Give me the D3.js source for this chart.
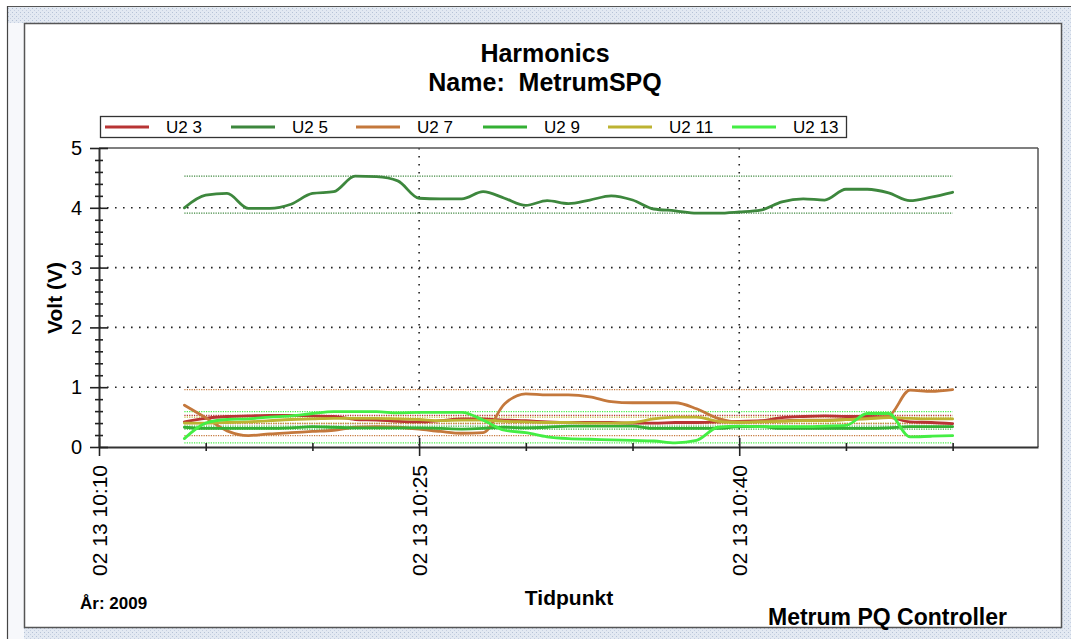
<!DOCTYPE html>
<html>
<head>
<meta charset="utf-8">
<script src="https://cdn.jsdelivr.net/npm/d3@7"></script>
<style>
  body { margin: 0; background: #fff; }
  svg { display: block; }
  text { font-family: Arial, "Liberation Sans", sans-serif; fill: #000; }
</style>
</head>
<body>
<svg id="chart" width="1071" height="639"></svg>
<script>
// Sample times (one reading per minute, 13 Feb 2009)
const times = ["10:14","10:15","10:16","10:17","10:18","10:19","10:20","10:21","10:22","10:23",
               "10:24","10:25","10:26","10:27","10:28","10:29","10:30","10:31","10:32","10:33",
               "10:34","10:35","10:36","10:37","10:38","10:39","10:40","10:41","10:42","10:43",
               "10:44","10:45","10:46","10:47","10:48","10:49","10:50"];

// Harmonic voltages (V)
const u2_3  = [0.42,0.48,0.51,0.52,0.53,0.53,0.52,0.51,0.46,0.45,0.43,0.42,0.44,0.47,0.47,0.45,0.44,0.42,0.41,0.41,
               0.41,0.40,0.40,0.41,0.41,0.42,0.43,0.44,0.49,0.51,0.52,0.51,0.51,0.50,0.42,0.41,0.39];
const u2_5  = [4.00,4.21,4.24,3.99,3.99,4.06,4.24,4.27,4.53,4.52,4.45,4.16,4.15,4.15,4.27,4.16,4.04,4.12,4.07,4.13,
               4.20,4.13,3.98,3.95,3.91,3.91,3.93,3.96,4.10,4.15,4.13,4.31,4.31,4.25,4.12,4.18,4.26];
const u2_7  = [0.70,0.49,0.27,0.19,0.22,0.24,0.26,0.28,0.33,0.34,0.33,0.30,0.26,0.23,0.24,0.72,0.89,0.87,0.87,0.84,
               0.76,0.74,0.74,0.74,0.64,0.48,0.42,0.43,0.44,0.45,0.45,0.46,0.48,0.52,0.95,0.93,0.96];
const u2_9  = [0.33,0.31,0.31,0.31,0.31,0.32,0.34,0.33,0.32,0.32,0.32,0.32,0.31,0.30,0.31,0.33,0.32,0.33,0.35,0.35,
               0.35,0.35,0.31,0.31,0.31,0.31,0.34,0.34,0.31,0.31,0.31,0.31,0.31,0.32,0.34,0.34,0.34];
const u2_11 = [0.40,0.40,0.41,0.42,0.44,0.46,0.47,0.48,0.48,0.48,0.47,0.46,0.44,0.45,0.45,0.43,0.42,0.41,0.41,0.40,
               0.40,0.41,0.47,0.50,0.50,0.43,0.41,0.42,0.43,0.44,0.44,0.46,0.47,0.49,0.48,0.47,0.47];
const u2_13 = [0.14,0.40,0.46,0.47,0.50,0.52,0.56,0.59,0.59,0.59,0.57,0.58,0.58,0.58,0.45,0.28,0.24,0.17,0.14,0.13,
               0.12,0.11,0.10,0.07,0.11,0.33,0.35,0.34,0.34,0.34,0.35,0.36,0.56,0.56,0.17,0.18,0.19];

const seriesNames  = ["U2 3","U2 5","U2 7","U2 9","U2 11","U2 13"];
const seriesValues = [u2_3, u2_5, u2_7, u2_9, u2_11, u2_13];
const seriesColors = ["#b83434","#3d873d","#c4783c","#34b034","#bdb332","#44ee44"];

// Axis settings
const timeDomain   = ["10:10","10:54"];
const yDomain      = [0, 5];
const yLabelTicks  = [0,1,2,3,4,5];
const gridValues   = [1,2,3,4];
const gridTimes    = ["10:25","10:40"];

const titleLines = ["Harmonics", "Name:  MetrumSPQ"];

const parse = s => d3.timeParse("%Y-%m-%d %H:%M")("2009-02-13 " + s);
const fmt = d3.timeFormat("%m %d %H:%M");

const svg = d3.select("#chart");
const W = 1071, H = 639;

// ---- frame and background ----
const defs = svg.append("defs");
const pat = defs.append("pattern").attr("id","hatch").attr("width",4).attr("height",4)
  .attr("patternUnits","userSpaceOnUse");
pat.append("rect").attr("width",4).attr("height",4).attr("fill","#e3e9f2");
pat.append("rect").attr("x",0).attr("y",0).attr("width",1).attr("height",1).attr("fill","#b5c2d6");
pat.append("rect").attr("x",2).attr("y",2).attr("width",1).attr("height",1).attr("fill","#c6d0e1");

svg.append("rect").attr("x",7).attr("y",6).attr("width",W-7).attr("height",H-6).attr("fill","url(#hatch)");
svg.append("rect").attr("x",8).attr("y",23).attr("width",16).attr("height",H-23).attr("fill","#f7f8fb");
svg.append("line").attr("x1",7).attr("x2",W).attr("y1",6.5).attr("y2",6.5).attr("stroke","#555").attr("stroke-width",1);
svg.append("line").attr("x1",7.5).attr("x2",7.5).attr("y1",6).attr("y2",H).attr("stroke","#444").attr("stroke-width",1.2);
svg.append("rect").attr("x",24.5).attr("y",23.5).attr("width",1037).attr("height",604)
  .attr("fill","#fff").attr("stroke","#555").attr("stroke-width",1.5);

// ---- scales ----
const plot = {left: 99, right: 1038, top: 148, bottom: 447};
const x = d3.scaleTime().domain(timeDomain.map(parse)).range([plot.left, plot.right]);
const y = d3.scaleLinear().domain(yDomain).range([plot.bottom, plot.top]);

// ---- titles ----
svg.append("text").attr("x",545).attr("y",62).attr("text-anchor","middle")
  .attr("font-size",25).attr("font-weight","bold").text(titleLines[0]);
svg.append("text").attr("x",545).attr("y",91).attr("text-anchor","middle")
  .attr("font-size",25).attr("font-weight","bold").attr("xml:space","preserve")
  .style("white-space","pre").text(titleLines[1]);

// ---- legend ----
const legend = svg.append("g");
legend.append("rect").attr("x",100.5).attr("y",116.5).attr("width",746).attr("height",21)
  .attr("fill","#fff").attr("stroke","#333").attr("stroke-width",1.3);
const legX = [105, 231, 356, 483, 608, 732];
seriesNames.forEach((name, i) => {
  legend.append("line").attr("x1",legX[i]).attr("x2",legX[i]+44).attr("y1",127).attr("y2",127)
    .attr("stroke",seriesColors[i]).attr("stroke-width",3);
  legend.append("text").attr("x",legX[i]+61).attr("y",133).attr("font-size",17).text(name);
});

// ---- grid ----
const grid = svg.append("g");
gridValues.forEach(v => {
  grid.append("line").attr("x1",plot.left).attr("x2",plot.right).attr("y1",y(v)).attr("y2",y(v))
    .attr("stroke","#222").attr("stroke-width",1.6).attr("stroke-dasharray","1.6,6.4");
});
gridTimes.forEach(t => {
  grid.append("line").attr("x1",x(parse(t))).attr("x2",x(parse(t))).attr("y1",plot.top).attr("y2",plot.bottom)
    .attr("stroke","#222").attr("stroke-width",1.6).attr("stroke-dasharray","1.6,6.4");
});

// plot frame (top and right)
svg.append("line").attr("x1",plot.left).attr("x2",plot.right).attr("y1",plot.top).attr("y2",plot.top)
  .attr("stroke","#555").attr("stroke-width",1.5);
svg.append("line").attr("x1",plot.right).attr("x2",plot.right).attr("y1",plot.top).attr("y2",plot.bottom)
  .attr("stroke","#555").attr("stroke-width",1.5);

// ---- min / max reference lines per series ----
const tStart = parse(times[0]), tEnd = parse(times[times.length-1]);
const refs = svg.append("g");
seriesValues.forEach((vals, i) => {
  [d3.min(vals), d3.max(vals)].forEach(v => {
    refs.append("line").attr("x1",x(tStart)).attr("x2",x(tEnd)).attr("y1",y(v)).attr("y2",y(v))
      .attr("stroke",seriesColors[i]).attr("stroke-width",1.2).attr("stroke-dasharray","1.2,1.2");
  });
});

// ---- series lines ----
const line = d3.line().x(d => x(d.t)).y(d => y(d.v)).curve(d3.curveMonotoneX);
seriesValues.forEach((vals, i) => {
  const data = vals.map((v, k) => ({t: parse(times[k]), v}));
  svg.append("path").datum(data).attr("d", line).attr("fill","none")
    .attr("stroke",seriesColors[i]).attr("stroke-width",2.8)
    .attr("stroke-linejoin","round").attr("stroke-linecap","round");
});

// ---- axes ----
const isMajor = d => (d.getMinutes() - 10) % 15 === 0;
const xAxis = d3.axisBottom(x).ticks(d3.timeMinute.every(5))
  .tickFormat(d => isMajor(d) ? fmt(d) : "").tickSizeOuter(0);
const gx = svg.append("g").attr("transform", `translate(0,${plot.bottom})`).call(xAxis);
gx.select(".domain").attr("stroke","#333").attr("stroke-width",2);
gx.selectAll(".tick line")
  .attr("y1", d => isMajor(d) ? -9 : -4).attr("y2", d => isMajor(d) ? 9 : 4)
  .attr("stroke","#222").attr("stroke-width",1.6);
gx.selectAll(".tick text")
  .attr("transform","rotate(-90)").attr("x",-18).attr("y",7.5).attr("dy",0)
  .attr("text-anchor","end").attr("font-size",21).attr("fill","#111")
  .attr("font-family","Arial, 'Liberation Sans', sans-serif");

const yAxis = d3.axisLeft(y).tickValues(d3.range(0, 5.001, 0.2))
  .tickFormat(d => yLabelTicks.includes(Math.round(d*10)/10) ? d3.format("d")(d) : "").tickSizeOuter(0);
const gy = svg.append("g").attr("transform", `translate(${plot.left},0)`).call(yAxis);
gy.select(".domain").attr("stroke","#333").attr("stroke-width",2);
const isInt = d => Math.abs(d - Math.round(d)) < 1e-6;
gy.selectAll(".tick line")
  .attr("x1", d => isInt(d) ? 9 : 4).attr("x2", d => isInt(d) ? -9 : -4)
  .attr("stroke","#222").attr("stroke-width",1.6);
gy.selectAll(".tick text").attr("x",-17).attr("font-size",20).attr("fill","#111")
  .attr("font-family","Arial, 'Liberation Sans', sans-serif");

// ---- axis titles and footer ----
svg.append("text").attr("transform","translate(62,298) rotate(-90)").attr("text-anchor","middle")
  .attr("font-size",21).attr("font-weight","bold").text("Volt (V)");
svg.append("text").attr("x",569).attr("y",605).attr("text-anchor","middle")
  .attr("font-size",21).attr("font-weight","bold").text("Tidpunkt");
svg.append("text").attr("x",80).attr("y",609).attr("font-size",17).attr("font-weight","bold").text("År: 2009");
svg.append("text").attr("x",768).attr("y",625).attr("font-size",23).attr("font-weight","bold").text("Metrum PQ Controller");
</script>
</body>
</html>
